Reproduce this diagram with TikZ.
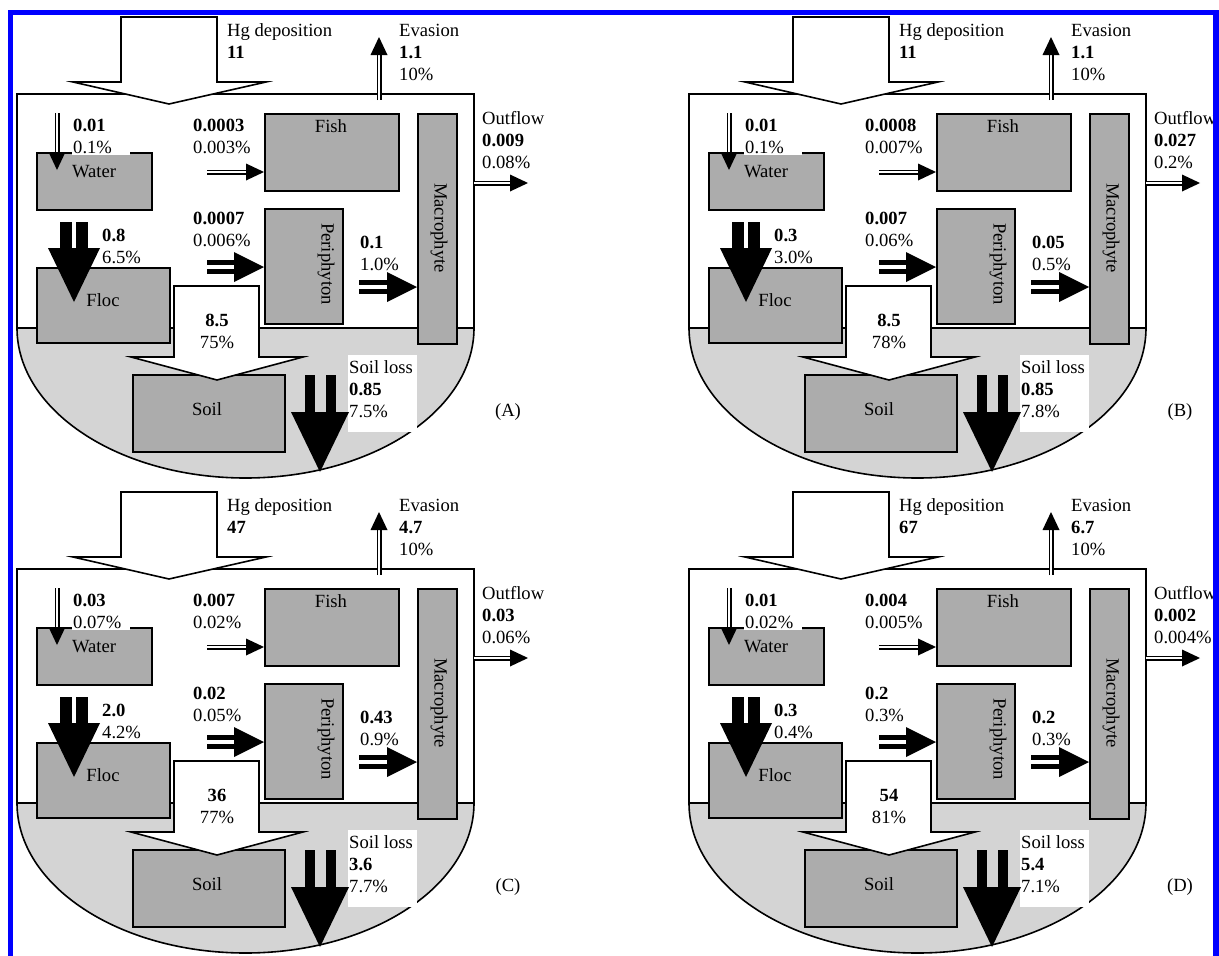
\documentclass[tikz,border=0pt]{standalone}
\usepackage{fontspec}
\setmainfont{Liberation Serif}
\usetikzlibrary{arrows.meta}

\definecolor{boxgray}{RGB}{172,172,172}
\definecolor{soilgray}{RGB}{212,212,212}
\definecolor{frameblue}{RGB}{0,0,255}

\tikzset{
  lake/.style={line width=1.6pt, line join=miter},
  pool/.style={draw, fill=boxgray, line width=1.6pt, anchor=north west},
  blockarrow/.style={draw, fill=white, line width=1.6pt, line join=miter},
  thinflow/.style={double, double distance=2.4pt, line width=1.3pt,
    -{Triangle[length=18pt, width=17pt, line width=0pt]}},
  medflow/.style={double, double distance=4pt, line width=5pt,
    -{Triangle[length=30pt, width=30pt, line width=0pt]}},
  bigflow/.style={double, double distance=4pt, line width=12pt,
    -{Triangle[length=54pt, width=52pt, line width=0pt]}},
  lossflow/.style={double=soilgray, double distance=11pt, line width=10pt,
    -{Triangle[length=60pt, width=58pt, line width=0pt]}},
  flux/.style={anchor=north west, align=left},
  fluxbg/.style={flux, fill=white, text width=56pt, inner xsep=1pt, inner ysep=2pt},
}

% one lake budget; numbers come from \depV ... \lossP
\newcommand\lakepanel[3]{%
\begin{scope}[shift={(#1,#2)}]
  % sediment and water column
  \fill[soilgray] (17,328) -- (474,328)
    arc[start angle=0, end angle=180, x radius=228.5, y radius=150] -- cycle;
  \draw[lake] (474,328) -- (474,94) -- (17,94) -- (17,328)
    arc[start angle=180, end angle=0, x radius=228.5, y radius=150];
  \draw[lake] (17,328) -- (474,328);

  % pools
  \node[pool, minimum width=115, minimum height=57] (water) at (36,152) {};
  \node[pool, minimum width=134, minimum height=77] (fish) at (264,113) {};
  \node[pool, minimum width=39, minimum height=230] (macro) at (417,113) {};
  \node[pool, minimum width=78, minimum height=115] (peri) at (264,208) {};
  \node[pool, minimum width=133, minimum height=75] (floc) at (36,267) {};
  \node[pool, minimum width=152, minimum height=77] (soil) at (132,374) {};
  \node (waterlbl) at (94,172) {Water};
  \node (fishlbl) at (331,126) {Fish};
  \node[rotate=-90] (macrolbl) at (439,228) {Macrophyte};
  \node[rotate=-90] (perilbl) at (326,264) {Periphyton};
  \node (floclbl) at (103,300) {Floc};
  \node (soillbl) at (207,409) {Soil};

  % deposition and burial
  \draw[blockarrow] (121,17) -- (217,17) -- (217,82) -- (266,82) -- (169,104)
    -- (73,82) -- (121,82) -- cycle;
  \draw[blockarrow] (174,286) -- (259,286) -- (259,357) -- (303,357) -- (217,380)
    -- (131,357) -- (174,357) -- cycle;

  % labels
  \node[flux] (deplbl) at (227,23.5) {Hg deposition\\\textbf{\depV}};
  \node[flux] (evalbl) at (399,23.5) {Evasion\\\textbf{\evaV}\\\evaP};
  \node[flux] (outlbl) at (482,111.5) {Outflow\\\textbf{\outV}\\\outP};
  \node[fluxbg] (watflux) at (72,116.5) {\textbf{\watV}\\\watP};
  \node[flux] (fishflux) at (193,118.5) {\textbf{\fishV}\\\fishP};
  \node[flux] (periflux) at (193,211.5) {\textbf{\periV}\\\periP};
  \node[flux] (macflux) at (360,235.5) {\textbf{\macV}\\\macP};
  \node[fluxbg] (flocflux) at (101,226.5) {\textbf{\flocV}\\\flocP};
  \node[align=center] (soilflux) at (217,331) {\textbf{\soilV}\\\soilP};
  \fill[white] (348,355) rectangle (417,432);
  \node[flux] (lossflux) at (349,360.5) {Soil loss\\\textbf{\lossV}\\\lossP};
  \node (tag) at (508,412) {(#3)};

  % fluxes
  \draw[thinflow] (57,113) -- (57,170);
  \draw[thinflow] (207,172) -- (fish.west |- 207,172);
  \draw[medflow] (207,267) -- (peri.west |- 207,267);
  \draw[medflow] (359,287) -- (macro.west |- 359,287);
  \draw[bigflow] (74,222) -- (74,302);
  \draw[lossflow] (320,375) -- (320,472);
  \draw[thinflow] (379,100) -- (379,37);
  \draw[thinflow] (474,183) -- (528,183);
\end{scope}}

\begin{document}
\begin{tikzpicture}[x=1pt, y=-1pt,
    every node/.style={font=\fontsize{18.6}{22}\selectfont, inner sep=0pt}]
\useasboundingbox (0,0) rectangle (1219,956);

% (A)
\def\depV{11}   \def\evaV{1.1}    \def\evaP{10\%}
\def\outV{0.009}\def\outP{0.08\%} \def\watV{0.01} \def\watP{0.1\%}
\def\fishV{0.0003}\def\fishP{0.003\%}\def\periV{0.0007}\def\periP{0.006\%}
\def\macV{0.1}  \def\macP{1.0\%}  \def\flocV{0.8} \def\flocP{6.5\%}
\def\soilV{8.5} \def\soilP{75\%}  \def\lossV{0.85}\def\lossP{7.5\%}
\lakepanel{0}{0}{A}

% (B)
\def\depV{11}   \def\evaV{1.1}    \def\evaP{10\%}
\def\outV{0.027}\def\outP{0.2\%}  \def\watV{0.01} \def\watP{0.1\%}
\def\fishV{0.0008}\def\fishP{0.007\%}\def\periV{0.007}\def\periP{0.06\%}
\def\macV{0.05} \def\macP{0.5\%}  \def\flocV{0.3} \def\flocP{3.0\%}
\def\soilV{8.5} \def\soilP{78\%}  \def\lossV{0.85}\def\lossP{7.8\%}
\lakepanel{672}{0}{B}

% (C)
\def\depV{47}   \def\evaV{4.7}    \def\evaP{10\%}
\def\outV{0.03} \def\outP{0.06\%} \def\watV{0.03} \def\watP{0.07\%}
\def\fishV{0.007}\def\fishP{0.02\%}\def\periV{0.02}\def\periP{0.05\%}
\def\macV{0.43} \def\macP{0.9\%}  \def\flocV{2.0} \def\flocP{4.2\%}
\def\soilV{36}  \def\soilP{77\%}  \def\lossV{3.6} \def\lossP{7.7\%}
\lakepanel{0}{475}{C}

% (D)
\def\depV{67}   \def\evaV{6.7}    \def\evaP{10\%}
\def\outV{0.002}\def\outP{0.004\%}\def\watV{0.01} \def\watP{0.02\%}
\def\fishV{0.004}\def\fishP{0.005\%}\def\periV{0.2}\def\periP{0.3\%}
\def\macV{0.2}  \def\macP{0.3\%}  \def\flocV{0.3} \def\flocP{0.4\%}
\def\soilV{54}  \def\soilP{81\%}  \def\lossV{5.4} \def\lossP{7.1\%}
\lakepanel{672}{475}{D}

% frame
\draw[frameblue, line width=5.5pt] (10.5,956) -- (10.5,12.5) -- (1216,12.5) -- (1216,956);
\end{tikzpicture}
\end{document}
